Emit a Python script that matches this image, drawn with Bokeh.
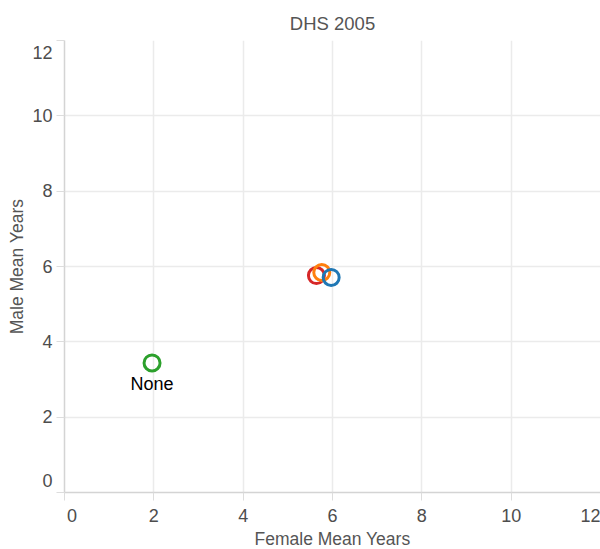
from bokeh.plotting import figure
from bokeh.models import Range1d, FixedTicker, ColumnDataSource
from bokeh.core.properties import value
from bokeh.embed import file_html
from bokeh.resources import INLINE

title = "DHS 2005"
x_title = "Female Mean Years"
y_title = "Male Mean Years"

# data (drawn in this order: red, orange, blue, green)
female_mean = [5.64, 5.76, 5.97, 1.96]
male_mean = [5.76, 5.84, 5.71, 3.44]
colors = ["#d62728", "#ff7f0e", "#1f77b4", "#2ca02c"]
point_labels = ["", "", "", "None"]

x_ticks = [0, 2, 4, 6, 8, 10, 12]
y_ticks = [0, 2, 4, 6, 8, 10, 12]

FONT = "Liberation Sans"
LABEL_COLOR = "#4d4d4d"
NBSP = "\u00a0"

p = figure(width=600, height=549, output_backend="svg", toolbar_location=None,
           x_range=Range1d(x_ticks[0], x_ticks[-1]), y_range=Range1d(y_ticks[0], y_ticks[-1]),
           min_border_left=64, min_border_right=0, min_border_top=40, min_border_bottom=57)
p.frame_width = 536
p.frame_height = 452
p.outline_line_color = None
p.background_fill_color = "white"
p.border_fill_color = "white"

p.title.text = title
p.title.align = "center"
p.title.text_font = FONT
p.title.text_font_size = "18.5px"
p.title.text_font_style = "normal"
p.title.text_color = "#555555"
p.title.offset = 0
p.title.standoff = 13

for ax, ticks in ((p.xaxis[0], x_ticks), (p.yaxis[0], y_ticks)):
    ax.ticker = FixedTicker(ticks=ticks)
    ax.minor_tick_line_color = None
    ax.major_tick_in = 0
    ax.major_tick_out = 8
    ax.major_tick_line_color = "#dddddd"
    ax.axis_line_color = "#d4d4d4"
    ax.axis_line_width = 1.5
    ax.major_label_text_font = FONT
    ax.major_label_text_font_size = "18px"
    ax.major_label_text_color = LABEL_COLOR
    ax.axis_label_text_font = FONT
    ax.axis_label_text_font_size = "17.5px"
    ax.axis_label_text_font_style = "normal"
    ax.axis_label_text_color = "#555555"

# flush the end labels inward, as in the reference
p.xaxis[0].major_label_overrides = {x_ticks[0]: NBSP * 3 + str(x_ticks[0])}
p.yaxis[0].major_label_overrides = {y_ticks[0]: str(y_ticks[0]) + "\n",
                                    y_ticks[-1]: "\n" + str(y_ticks[-1])}

p.xaxis[0].axis_label = x_title
p.yaxis[0].axis_label = y_title
p.xaxis[0].major_label_standoff = 5
p.yaxis[0].major_label_standoff = 4
p.xaxis[0].axis_label_standoff = 0
p.yaxis[0].axis_label_standoff = 2

p.xgrid.ticker = FixedTicker(ticks=x_ticks)
p.ygrid.ticker = FixedTicker(ticks=y_ticks)
p.xgrid.grid_line_color = "#ebebeb"
p.ygrid.grid_line_color = "#ebebeb"
p.xgrid.grid_line_width = 1.5
p.ygrid.grid_line_width = 1.5

src = ColumnDataSource(dict(x=female_mean, y=male_mean, c=colors, t=point_labels))
p.scatter("x", "y", source=src, marker="circle", size=16, fill_color=None,
          line_color="c", line_width=3)
p.text("x", "y", text="t", source=src, text_font=value(FONT), text_font_size="18px",
       text_color="black", text_align="center", text_baseline="middle", y_offset=21)

open("out.html", "w").write(file_html(p, INLINE))
